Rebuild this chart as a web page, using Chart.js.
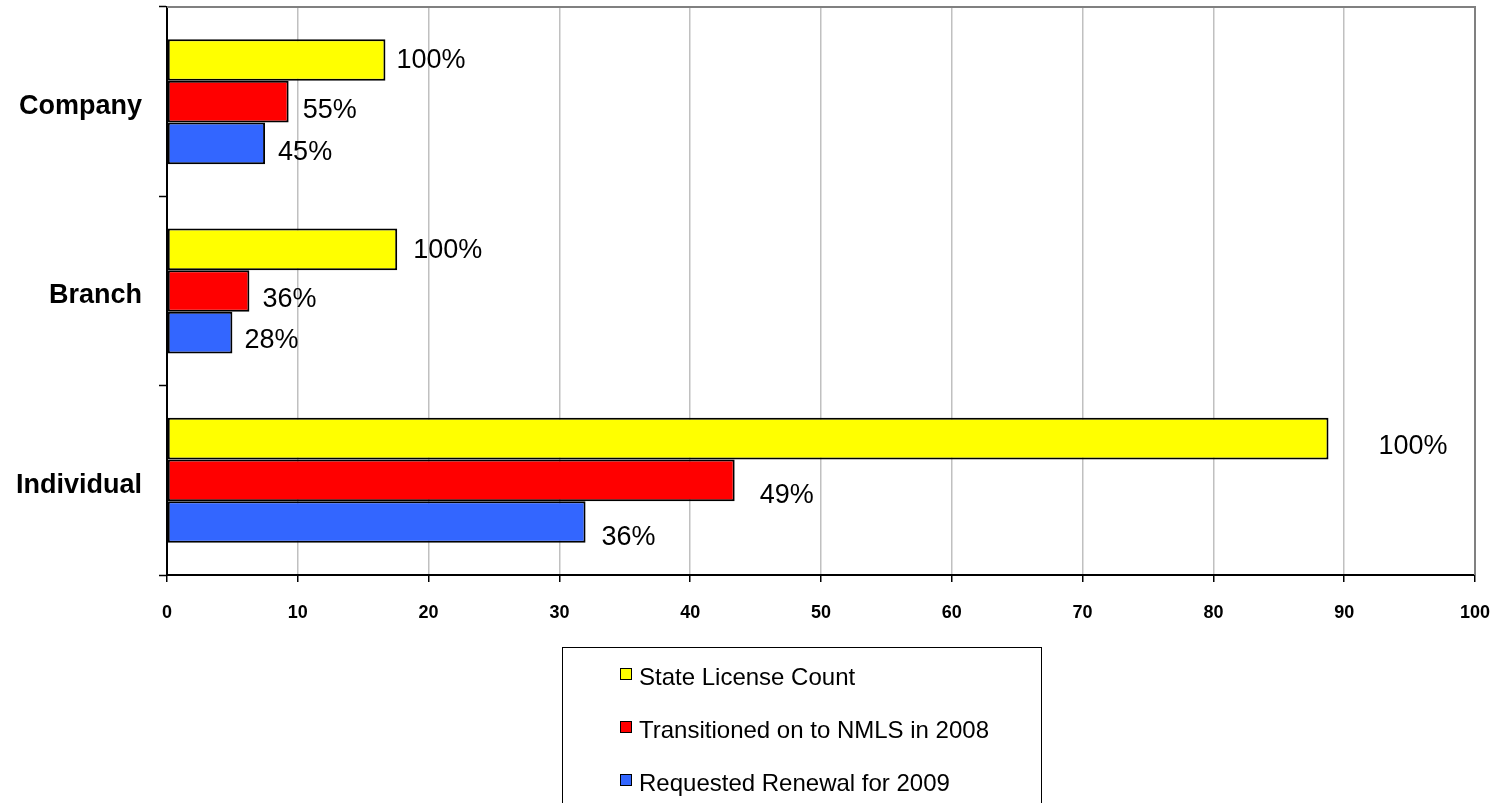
<!DOCTYPE html>
<html>
<head>
<meta charset="utf-8">
<script src="https://cdn.jsdelivr.net/npm/chart.js@4/dist/chart.umd.min.js"></script>
<style>
  html, body { margin: 0; padding: 0; background: #ffffff; overflow: hidden; }
  canvas { display: block; }
</style>
</head>
<body>
<canvas id="c" width="1511" height="803"></canvas>
<script>
// ---- Data ----
const categories = ['Company', 'Branch', 'Individual'];
const seriesNames = ['State License Count', 'Transitioned on to NMLS in 2008', 'Requested Renewal for 2009'];
const stateLicenseCount = [16.7, 17.6, 88.8];
const transitionedNMLS2008 = [9.3, 6.3, 43.4];
const requestedRenewal2009 = [7.5, 5.0, 32.0];
const stateLabels = ['100%', '100%', '100%'];
const transitionedLabels = ['55%', '36%', '49%'];
const renewalLabels = ['45%', '28%', '36%'];
const xTicks = [0, 10, 20, 30, 40, 50, 60, 70, 80, 90, 100];

// ---- Styles ----
const FONT = '"Liberation Sans", Arial, Helvetica, sans-serif';
const colors = ['#FFFF00', '#FF0000', '#3366FF'];
// label offsets [dx, dy] per dataset per category (style only)
const labelOffsets = [
  [[11, 1], [16, 1], [50, 8]],
  [[14, 9], [13, 9], [25, 15]],
  [[13, 9], [12, 8], [16, 16]]
];

const valueLabelPlugin = {
  id: 'valueLabels',
  afterDatasetsDraw(chart) {
    const ctx = chart.ctx;
    const texts = [stateLabels, transitionedLabels, renewalLabels];
    ctx.save();
    ctx.font = '27px ' + FONT;
    ctx.fillStyle = '#000000';
    ctx.textAlign = 'left';
    ctx.textBaseline = 'middle';
    chart.data.datasets.forEach((ds, di) => {
      const meta = chart.getDatasetMeta(di);
      meta.data.forEach((bar, i) => {
        const off = labelOffsets[di][i];
        ctx.fillText(texts[di][i], bar.x + off[0], bar.y + off[1]);
      });
    });
    ctx.restore();
  }
};

const frameLegendPlugin = {
  id: 'frameLegend',
  beforeDatasetsDraw(chart) {
    const ctx = chart.ctx;
    const a = chart.chartArea;
    ctx.save();
    ctx.strokeStyle = '#808080';
    ctx.lineWidth = 2;
    ctx.beginPath();
    ctx.moveTo(a.left, a.top);
    ctx.lineTo(a.right, a.top);
    ctx.lineTo(a.right, a.bottom);
    ctx.stroke();
    ctx.restore();
  },
  afterDraw(chart) {
    const ctx = chart.ctx;
    ctx.save();
    // legend box
    ctx.strokeStyle = '#000000';
    ctx.lineWidth = 1;
    ctx.strokeRect(562.5, 647.5, 479, 200);
    ctx.font = '24px ' + FONT;
    ctx.textAlign = 'left';
    ctx.textBaseline = 'middle';
    chart.data.datasets.forEach((ds, i) => {
      const cy = 677 + i * 53;
      ctx.fillStyle = ds.backgroundColor;
      ctx.fillRect(620, cy - 9, 12, 12);
      ctx.strokeStyle = '#000000';
      ctx.lineWidth = 1;
      ctx.strokeRect(620.5, cy - 8.5, 11, 11);
      ctx.fillStyle = '#000000';
      ctx.fillText(ds.label, 639, cy + 1);
    });
    ctx.restore();
  }
};

const allValues = [stateLicenseCount, transitionedNMLS2008, requestedRenewal2009];

new Chart(document.getElementById('c'), {
  type: 'bar',
  data: {
    labels: categories,
    datasets: allValues.map((vals, i) => ({
      label: seriesNames[i],
      data: vals,
      backgroundColor: colors[i],
      borderColor: '#000000',
      borderWidth: 2,
      borderSkipped: false,
      categoryPercentage: 0.66,
      barPercentage: 1.0
    }))
  },
  options: {
    indexAxis: 'y',
    responsive: false,
    animation: false,
    devicePixelRatio: 1,
    layout: { padding: { left: 0, right: 36, top: 7, bottom: 0 } },
    plugins: {
      legend: { display: false },
      tooltip: { enabled: false }
    },
    scales: {
      x: {
        min: 0,
        max: 100,
        afterBuildTicks: (s) => { s.ticks = xTicks.map(v => ({ value: v })); },
        afterFit: (s) => { s.height = 228; s.paddingLeft = 0; s.paddingRight = 0; },
        grid: {
          color: '#C0C0C0',
          lineWidth: 1.5,
          tickColor: '#000000',
          tickLength: 7,
          tickWidth: 1.5
        },
        border: { color: '#000000', width: 2 },
        ticks: {
          color: '#000000',
          font: { family: FONT, size: 18, weight: 'bold' },
          padding: 20,
          maxRotation: 0
        }
      },
      y: {
        afterFit: (s) => { s.width = 167; s.paddingTop = 0; s.paddingBottom = 0; },
        grid: {
          drawOnChartArea: false,
          color: '#000000',
          tickLength: 8,
          tickWidth: 1.5
        },
        border: { color: '#000000', width: 2 },
        ticks: {
          color: '#000000',
          font: { family: FONT, size: 27, weight: 'bold' },
          padding: 17,
          labelOffset: 5
        }
      }
    }
  },
  plugins: [valueLabelPlugin, frameLegendPlugin]
});
</script>
</body>
</html>
